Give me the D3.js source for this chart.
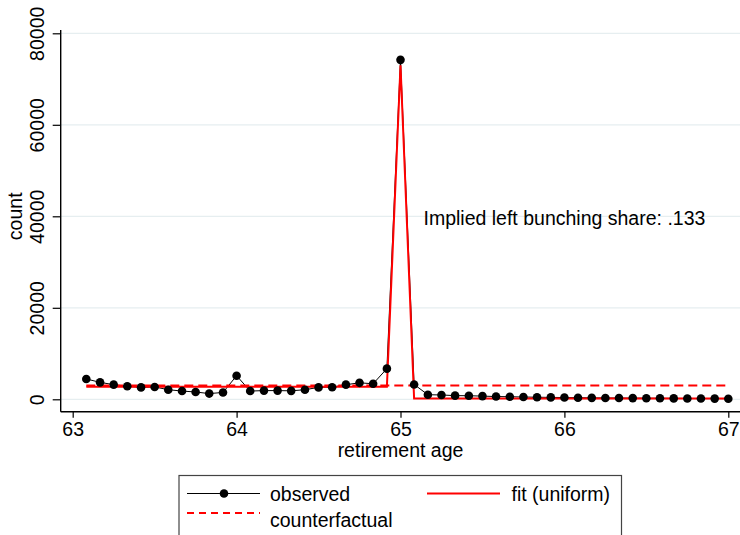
<!DOCTYPE html>
<html>
<head>
<meta charset="utf-8">
<script src="https://cdn.jsdelivr.net/npm/d3@7"></script>
<style>
  html, body { margin: 0; padding: 0; background: #fff; }
  svg { display: block; font-family: Arial, "Liberation Sans", Helvetica, sans-serif; }
</style>
</head>
<body>
<svg id="chart" width="740" height="535"></svg>
<script>
// Retirement age in years (monthly bins)
const ages = [
  63.083, 63.167, 63.25, 63.333, 63.417, 63.5, 63.583, 63.667, 63.75, 63.833, 63.917, 64.0,
  64.083, 64.167, 64.25, 64.333, 64.417, 64.5, 64.583, 64.667, 64.75, 64.833, 64.917, 65.0,
  65.083, 65.167, 65.25, 65.333, 65.417, 65.5, 65.583, 65.667, 65.75, 65.833, 65.917, 66.0,
  66.083, 66.167, 66.25, 66.333, 66.417, 66.5, 66.583, 66.667, 66.75, 66.833, 66.917, 67.0
];

// Observed retirement counts
const observed = [
  4450, 3700, 3200, 2850, 2600, 2700, 2100, 1800, 1600, 1250, 1500, 5150,
  1800, 1900, 1900, 1850, 2100, 2600, 2650, 3200, 3600, 3400, 6700, 74200,
  3250, 1000, 950, 800, 780, 700, 600, 560, 500, 450, 420, 380,
  350, 320, 300, 280, 260, 240, 220, 200, 180, 160, 150, 130
];

// Fitted uniform bunching model
const fitUniform = [
  2750, 2750, 2750, 2750, 2750, 2750, 2750, 2750, 2750, 2750, 2750, 2750,
  2750, 2750, 2750, 2750, 2750, 2750, 2750, 2750, 2750, 2750, 2750, 73000,
  150, 150, 150, 150, 150, 150, 150, 150, 150, 150, 150, 150,
  150, 150, 150, 150, 150, 150, 150, 150, 150, 150, 150, 150
];

// Counterfactual density without bunching
const counterfactual = [
  3000, 3000, 3000, 3000, 3000, 3000, 3000, 3000, 3000, 3000, 3000, 3000,
  3000, 3000, 3000, 3000, 3000, 3000, 3000, 3000, 3000, 3000, 3000, 3000,
  3000, 3000, 3000, 3000, 3000, 3000, 3000, 3000, 3000, 3000, 3000, 3000,
  3000, 3000, 3000, 3000, 3000, 3000, 3000, 3000, 3000, 3000, 3000, 3000
];

const xTicks = [63, 64, 65, 66, 67];
const yTicks = [0, 20000, 40000, 60000, 80000];
const annotation = "Implied left bunching share: .133";
const legendLabels = ["observed", "fit (uniform)", "counterfactual"];

const svg = d3.select("#chart");
const FONT = 19.5;

const plot = { left: 60.7, right: 740, top: 30, bottom: 411.7 };

const x = d3.scaleLinear().domain([63, 67]).range([72.7, 728.3]);
const y = d3.scaleLinear().domain([0, 80000]).range([399.3, 33.3]);

// Gridlines
svg.append("g")
  .selectAll("line")
  .data(yTicks)
  .join("line")
  .attr("x1", plot.left).attr("x2", plot.right)
  .attr("y1", d => y(d)).attr("y2", d => y(d))
  .attr("stroke", "#e6eef0").attr("stroke-width", 1.2);

// Axes
const xAxis = d3.axisBottom(x).tickValues(xTicks).tickFormat(d3.format("d")).tickSize(6).tickPadding(4).tickSizeOuter(0);
const gx = svg.append("g").attr("transform", `translate(0,${plot.bottom})`).call(xAxis);
gx.select(".domain").remove();
gx.selectAll(".tick line").attr("stroke", "#000").attr("stroke-width", 1.2);
gx.selectAll(".tick text").attr("font-size", FONT).attr("fill", "#000").attr("font-family", "Arial, 'Liberation Sans', sans-serif");

const yAxis = d3.axisLeft(y).tickValues(yTicks).tickFormat(d3.format("d")).tickSize(8).tickSizeOuter(0);
const gy = svg.append("g").attr("transform", `translate(${plot.left},0)`).call(yAxis);
gy.select(".domain").remove();
gy.selectAll(".tick line").attr("stroke", "#000").attr("stroke-width", 1.2);
gy.selectAll(".tick text")
  .attr("font-size", FONT).attr("fill", "#000")
  .attr("font-family", "Arial, 'Liberation Sans', sans-serif")
  .attr("x", null).attr("dy", null)
  .attr("text-anchor", "middle")
  .attr("transform", "translate(-17,0) rotate(-90)");

// Axis lines
svg.append("line")
  .attr("x1", plot.left).attr("x2", plot.left)
  .attr("y1", plot.top).attr("y2", plot.bottom)
  .attr("stroke", "#000").attr("stroke-width", 1.4);
svg.append("line")
  .attr("x1", plot.left).attr("x2", plot.right)
  .attr("y1", plot.bottom).attr("y2", plot.bottom)
  .attr("stroke", "#000").attr("stroke-width", 1.4);

// Axis titles
svg.append("text")
  .attr("transform", `translate(22,${(y(0) + y(80000)) / 2}) rotate(-90)`)
  .attr("text-anchor", "middle")
  .attr("font-size", FONT)
  .text("count");
svg.append("text")
  .attr("x", x(65)).attr("y", 457)
  .attr("text-anchor", "middle")
  .attr("font-size", FONT)
  .text("retirement age");

// Series
const idx = d3.range(ages.length);
const lineOf = vals => d3.line().x(i => x(ages[i])).y(i => y(vals[i]));

svg.append("path")
  .attr("d", lineOf(observed)(idx))
  .attr("fill", "none").attr("stroke", "#000").attr("stroke-width", 1);

svg.append("path")
  .attr("d", lineOf(fitUniform)(idx))
  .attr("fill", "none").attr("stroke", "#ff0000").attr("stroke-width", 2);

svg.append("path")
  .attr("d", lineOf(counterfactual)(idx))
  .attr("fill", "none").attr("stroke", "#ff0000").attr("stroke-width", 2)
  .attr("stroke-dasharray", "9,5");

svg.append("g")
  .selectAll("circle")
  .data(idx)
  .join("circle")
  .attr("cx", i => x(ages[i]))
  .attr("cy", i => y(observed[i]))
  .attr("r", 4.3)
  .attr("fill", "#000");

// Annotation
svg.append("text")
  .attr("x", 423.5).attr("y", 224.5)
  .attr("font-size", FONT)
  .text(annotation);

// Legend
const lg = svg.append("g");
lg.append("rect")
  .attr("x", 179).attr("y", 475.5)
  .attr("width", 442.5).attr("height", 80)
  .attr("fill", "#fff").attr("stroke", "#444").attr("stroke-width", 1.2);

lg.append("line")
  .attr("x1", 187).attr("x2", 260).attr("y1", 493.5).attr("y2", 493.5)
  .attr("stroke", "#000").attr("stroke-width", 1);
lg.append("circle").attr("cx", 224).attr("cy", 493.5).attr("r", 4.3).attr("fill", "#000");
lg.append("text").attr("x", 270).attr("y", 500.5).attr("font-size", FONT).text(legendLabels[0]);

lg.append("line")
  .attr("x1", 427).attr("x2", 500).attr("y1", 493.5).attr("y2", 493.5)
  .attr("stroke", "#ff0000").attr("stroke-width", 2);
lg.append("text").attr("x", 511.5).attr("y", 500.5).attr("font-size", FONT).text(legendLabels[1]);

lg.append("line")
  .attr("x1", 187).attr("x2", 260).attr("y1", 513).attr("y2", 513)
  .attr("stroke", "#ff0000").attr("stroke-width", 2)
  .attr("stroke-dasharray", "7,5");
lg.append("text").attr("x", 270).attr("y", 527).attr("font-size", FONT).text(legendLabels[2]);
</script>
</body>
</html>
